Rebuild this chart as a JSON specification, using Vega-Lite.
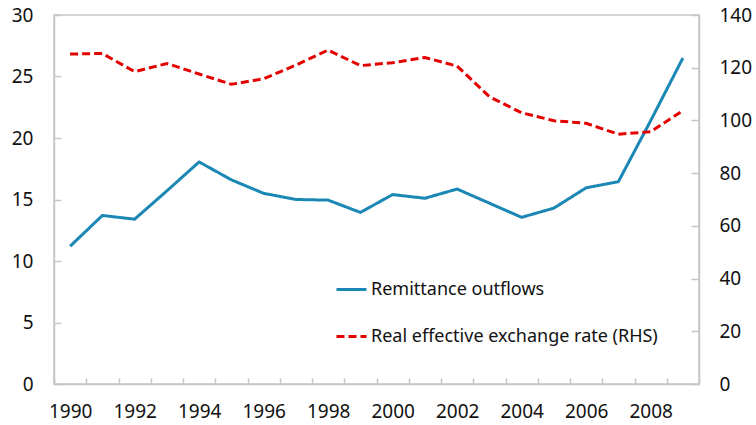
{
  "$schema": "https://vega.github.io/schema/vega-lite/v6.json",
  "width": 645,
  "height": 369,
  "autosize": {"type": "none"},
  "padding": {"left": 54, "top": 15, "right": 57, "bottom": 41},
  "background": "white",
  "config": {
    "view": {"stroke": "#c6c6c6", "strokeWidth": 1.5},
    "font": "Noto Sans",
    "axis": {
      "grid": false,
      "domainColor": "#c6c6c6",
      "domainWidth": 1.5,
      "tickColor": "#c6c6c6",
      "tickWidth": 1.5,
      "labelColor": "#111111",
      "labelFont": "Noto Sans",
      "labelFontSize": 19,
      "title": null
    }
  },
  "data": {
    "values": [
      {"year": 1990, "series": "Remittance outflows", "v": 11.2},
      {"year": 1991, "series": "Remittance outflows", "v": 13.7},
      {"year": 1992, "series": "Remittance outflows", "v": 13.4},
      {"year": 1993, "series": "Remittance outflows", "v": 15.7},
      {"year": 1994, "series": "Remittance outflows", "v": 18.05},
      {"year": 1995, "series": "Remittance outflows", "v": 16.6},
      {"year": 1996, "series": "Remittance outflows", "v": 15.5},
      {"year": 1997, "series": "Remittance outflows", "v": 15.0},
      {"year": 1998, "series": "Remittance outflows", "v": 14.95},
      {"year": 1999, "series": "Remittance outflows", "v": 13.95},
      {"year": 2000, "series": "Remittance outflows", "v": 15.4},
      {"year": 2001, "series": "Remittance outflows", "v": 15.1},
      {"year": 2002, "series": "Remittance outflows", "v": 15.85},
      {"year": 2003, "series": "Remittance outflows", "v": 14.7},
      {"year": 2004, "series": "Remittance outflows", "v": 13.55},
      {"year": 2005, "series": "Remittance outflows", "v": 14.3},
      {"year": 2006, "series": "Remittance outflows", "v": 15.95},
      {"year": 2007, "series": "Remittance outflows", "v": 16.45},
      {"year": 2008, "series": "Remittance outflows", "v": 21.4},
      {"year": 2009, "series": "Remittance outflows", "v": 26.5},
      {"year": 1990, "series": "Real effective exchange rate (RHS)", "v": 125.2},
      {"year": 1991, "series": "Real effective exchange rate (RHS)", "v": 125.4},
      {"year": 1992, "series": "Real effective exchange rate (RHS)", "v": 118.5},
      {"year": 1993, "series": "Real effective exchange rate (RHS)", "v": 121.6},
      {"year": 1994, "series": "Real effective exchange rate (RHS)", "v": 117.6},
      {"year": 1995, "series": "Real effective exchange rate (RHS)", "v": 113.7},
      {"year": 1996, "series": "Real effective exchange rate (RHS)", "v": 115.8},
      {"year": 1997, "series": "Real effective exchange rate (RHS)", "v": 121.0},
      {"year": 1998, "series": "Real effective exchange rate (RHS)", "v": 126.7},
      {"year": 1999, "series": "Real effective exchange rate (RHS)", "v": 120.8},
      {"year": 2000, "series": "Real effective exchange rate (RHS)", "v": 121.9},
      {"year": 2001, "series": "Real effective exchange rate (RHS)", "v": 123.9},
      {"year": 2002, "series": "Real effective exchange rate (RHS)", "v": 120.6},
      {"year": 2003, "series": "Real effective exchange rate (RHS)", "v": 109.0},
      {"year": 2004, "series": "Real effective exchange rate (RHS)", "v": 102.9},
      {"year": 2005, "series": "Real effective exchange rate (RHS)", "v": 99.9},
      {"year": 2006, "series": "Real effective exchange rate (RHS)", "v": 98.9},
      {"year": 2007, "series": "Real effective exchange rate (RHS)", "v": 94.8},
      {"year": 2008, "series": "Real effective exchange rate (RHS)", "v": 95.7},
      {"year": 2009, "series": "Real effective exchange rate (RHS)", "v": 103.7}
    ]
  },
  "encoding": {
    "x": {
      "field": "year",
      "type": "ordinal",
      "scale": {"paddingInner": 0, "paddingOuter": 0},
      "axis": {
        "labelAngle": 0,
        "tickBand": "extent",
        "tickSize": -6,
        "labelPadding": 24,
        "labelExpr": "datum.value % 2 == 0 ? datum.label : ''"
      }
    },
    "color": {
      "field": "series",
      "type": "nominal",
      "scale": {
        "domain": ["Remittance outflows", "Real effective exchange rate (RHS)"],
        "range": ["#1a87b5", "#e50000"]
      },
      "legend": {
        "title": null,
        "orient": "none",
        "legendX": 281,
        "legendY": 258,
        "symbolType": "stroke",
        "symbolSize": 900,
        "symbolStrokeWidth": 3,
        "labelFont": "Noto Sans",
        "labelFontSize": 18,
        "labelColor": "#111111",
        "labelOffset": 3,
        "labelLimit": 0,
        "rowPadding": 21
      }
    },
    "strokeDash": {
      "field": "series",
      "type": "nominal",
      "scale": {
        "domain": ["Remittance outflows", "Real effective exchange rate (RHS)"],
        "range": [[1, 0], [8, 4]]
      },
      "legend": {
        "title": null,
        "orient": "none",
        "legendX": 281,
        "legendY": 258,
        "symbolType": "stroke",
        "symbolSize": 900,
        "symbolStrokeWidth": 3,
        "labelFont": "Noto Sans",
        "labelFontSize": 18,
        "labelColor": "#111111",
        "labelOffset": 3,
        "labelLimit": 0,
        "rowPadding": 21
      }
    }
  },
  "layer": [
    {
      "transform": [{"filter": "datum.series == 'Remittance outflows'"}],
      "mark": {"type": "line", "strokeWidth": 3},
      "encoding": {
        "y": {
          "field": "v",
          "type": "quantitative",
          "scale": {"domain": [0, 30], "nice": false},
          "axis": {"orient": "left", "values": [0, 5, 10, 15, 20, 25, 30], "tickSize": -7, "labelPadding": 28}
        }
      }
    },
    {
      "transform": [{"filter": "datum.series == 'Real effective exchange rate (RHS)'"}],
      "mark": {"type": "line", "strokeWidth": 3},
      "encoding": {
        "y": {
          "field": "v",
          "type": "quantitative",
          "scale": {"domain": [0, 140], "nice": false},
          "axis": {"orient": "right", "values": [0, 20, 40, 60, 80, 100, 120, 140], "tickSize": -8, "labelPadding": 28}
        }
      }
    }
  ],
  "resolve": {"scale": {"y": "independent"}}
}
